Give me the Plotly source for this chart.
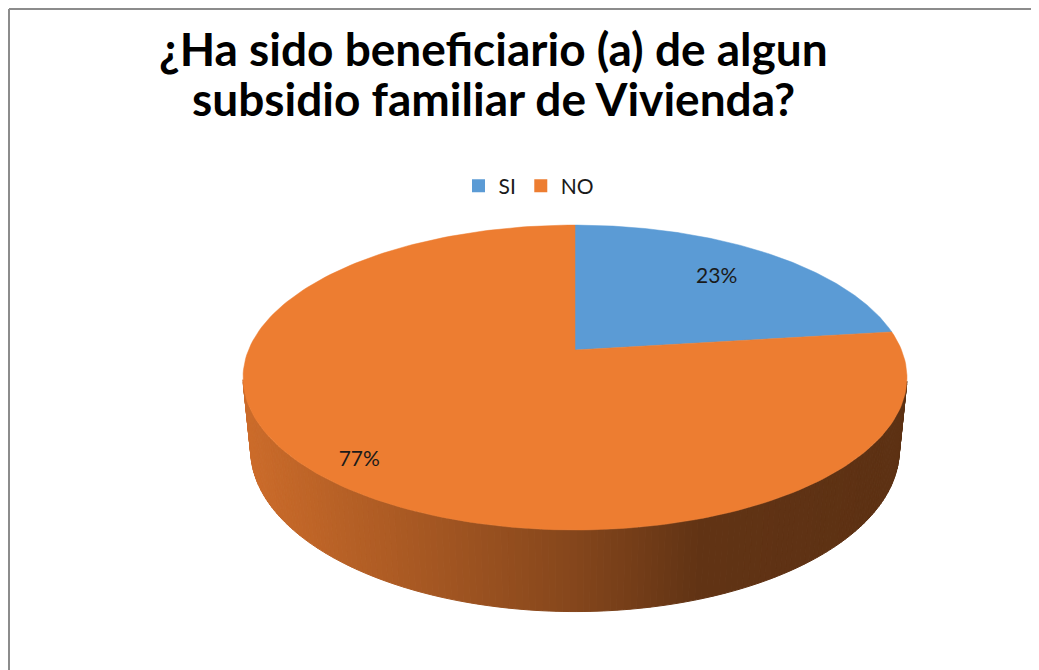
import numpy as np
import plotly.graph_objects as go

# chart data
labels = ['SI', 'NO']
values = [23, 77]
slice_colors = ['#5B9BD5', '#ED7D31']
title_lines = ['¿Ha sido beneficiario (a) de algun', 'subsidio familiar de Vivienda?']

# where each percentage label sits, as a fraction of the radius
label_radius = [0.72, 0.88]

# the page puts the figure 8px in from the corner, so the axes run in page pixels
W, H = 1039, 670
PAD = 8
CX, CY = 575, 350
TILT = np.radians(26.85)
DIST = 4.94
FOCAL = 1613
DEPTH = 0.25


def project(u, v, h):
    '''
    Projects a point of the pie (u to the right, v to the back, h up)
    on to the page.
    '''
    s, c = np.sin(TILT), np.cos(TILT)
    yc = v * s + h * c
    zc = DIST + v * c - h * s
    return CX + FOCAL * u / zc, CY - FOCAL * yc / zc


def rim(theta_deg, h, r=1.0):
    t = np.radians(theta_deg)
    return project(r * np.sin(t), r * np.cos(t), h)


def shade(hex_color, factor):
    r, g, b = (int(hex_color[i:i + 2], 16) for i in (1, 3, 5))
    return 'rgb({:.0f},{:.0f},{:.0f})'.format(r * factor, g * factor, b * factor)


fractions = np.array(values) / sum(values)
bounds = np.concatenate([[0], np.cumsum(fractions)]) * 360

fig = go.Figure()

# side wall, only the part that faces the viewer, as thin strips
for i in range(len(values)):
    steps = np.arange(bounds[i], bounds[i + 1], 1.0)
    steps = np.append(steps, bounds[i + 1])
    for a0, a1 in zip(steps[:-1], steps[1:]):
        mid = (a0 + a1) / 2
        if np.cos(np.radians(mid)) > -0.2:
            continue
        x0t, y0t = rim(a0, 0)
        x1t, y1t = rim(a1, 0)
        x0b, y0b = rim(a0, -DEPTH)
        x1b, y1b = rim(a1, -DEPTH)
        xm = (x0t + x1t) / 2
        factor = np.interp(xm, [243, 400, 575, 700, 907],
                           [0.86, 0.72, 0.56, 0.41, 0.39])
        col = shade(slice_colors[i], factor)
        fig.add_scatter(x=[x0t, x1t, x1b, x0b, x0t],
                        y=[y0t, y1t, y1b, y0b, y0t],
                        mode='lines', fill='toself', fillcolor=col,
                        line=dict(color=col, width=1),
                        hoverinfo='skip', showlegend=False)

# top face of every slice
for i in range(len(values)):
    arc = np.linspace(bounds[i], bounds[i + 1], 200)
    xs, ys = rim(arc, 0)
    cx, cy = project(0, 0, 0)
    fig.add_scatter(x=np.concatenate([[cx], xs, [cx]]),
                    y=np.concatenate([[cy], ys, [cy]]),
                    mode='lines', fill='toself', fillcolor=slice_colors[i],
                    line=dict(color=slice_colors[i], width=0.5),
                    hoverinfo='skip', showlegend=False)

# percentage labels
mids = (bounds[:-1] + bounds[1:]) / 2
lx, ly = rim(mids, 0, np.array(label_radius))
fig.add_scatter(x=lx, y=ly, mode='text',
                text=['{:.0f}%'.format(f * 100) for f in fractions],
                textfont=dict(family='Lato', size=21, color='#1a1a1a'),
                hoverinfo='skip', showlegend=False)

# legend entries
for name, col in zip(labels, slice_colors):
    fig.add_scatter(x=[None], y=[None], mode='markers', name=name,
                    marker=dict(symbol='square', size=13, color=col))

# title, one annotation per line
for k, line in enumerate(title_lines):
    fig.add_annotation(x=493, y=48 + 50 * k, xref='x', yref='y',
                       text='<b>' + line + '</b>', showarrow=False,
                       xanchor='center', yanchor='middle',
                       font=dict(family='Lato', size=46, color='black'))

fig.update_layout(
    width=W - PAD, height=H - PAD,
    autosize=False,
    margin=dict(l=0, r=0, t=0, b=0),
    paper_bgcolor='white',
    plot_bgcolor='white',
    xaxis=dict(range=[PAD, W], visible=False, fixedrange=True),
    yaxis=dict(range=[H, PAD], visible=False, fixedrange=True),
    legend=dict(orientation='h', x=(529 - PAD) / (W - PAD), xanchor='center',
                y=1 - (186 - PAD) / (H - PAD), yanchor='middle',
                font=dict(family='Lato', size=21, color='#1a1a1a'),
                itemwidth=30, tracegroupgap=0),
    shapes=[
        dict(type='line', xref='x', yref='y', x0=PAD + 1, x1=W, y0=PAD + 1, y1=PAD + 1,
             line=dict(color='#8C8C8C', width=2)),
        dict(type='line', xref='x', yref='y', x0=PAD + 1, x1=PAD + 1, y0=PAD + 1, y1=H,
             line=dict(color='#8C8C8C', width=2)),
    ],
)

fig.write_html('out.html')
